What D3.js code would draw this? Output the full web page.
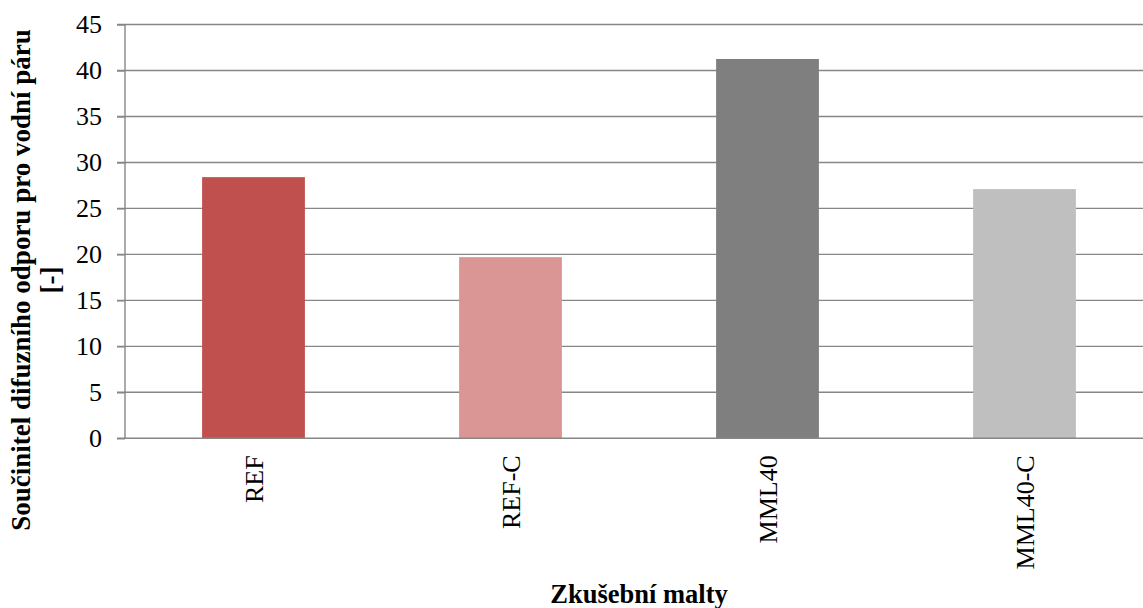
<!DOCTYPE html>
<html>
<head>
<meta charset="utf-8">
<script src="https://cdn.jsdelivr.net/npm/d3@7"></script>
<style>
  html, body { margin: 0; padding: 0; background: #fff; }
  svg { display: block; }
</style>
</head>
<body>
<svg id="chart" width="1143" height="608"></svg>
<script>
const categories = ["REF", "REF-C", "MML40", "MML40-C"];
const values = [28.4, 19.7, 41.25, 27.1];
const colors = ["#C0504D", "#D99694", "#7F7F7F", "#BFBFBF"];
const yTicks = [0, 5, 10, 15, 20, 25, 30, 35, 40, 45];
const yTitleLines = ["Součinitel difuzního odporu pro vodní páru", "[-]"];
const xTitle = "Zkušební malty";

const FONT = "Liberation Serif";
const svg = d3.select("#chart");
const plotLeft = 125, plotRight = 1153, plotTop = 24.5, plotBottom = 438.3;
const gridColor = "#868686";

const x = d3.scaleBand().domain(categories).range([plotLeft, plotRight]).paddingInner(0.6).paddingOuter(0.3);
const y = d3.scaleLinear().domain([0, 45]).range([plotBottom, plotTop]);

// gridlines
svg.append("g").selectAll("line").data(yTicks.filter(d => d > 0)).join("line")
  .attr("x1", plotLeft - 8).attr("x2", plotRight)
  .attr("y1", d => y(d)).attr("y2", d => y(d))
  .attr("stroke", gridColor).attr("stroke-width", 1.4);

// bars
svg.append("g").selectAll("rect").data(categories).join("rect")
  .attr("x", d => x(d))
  .attr("width", x.bandwidth())
  .attr("y", (d, i) => y(values[i]))
  .attr("height", (d, i) => y(0) - y(values[i]))
  .attr("fill", (d, i) => colors[i]);

// y axis
const yAxis = d3.axisLeft(y).tickValues(yTicks).tickSize(8).tickPadding(15);
const gy = svg.append("g").attr("transform", `translate(${plotLeft},0)`).call(yAxis)
  .attr("font-family", FONT).attr("font-size", 26);
gy.select(".domain").attr("stroke", gridColor).attr("stroke-width", 1.4).attr("d", `M0,${plotTop}V${plotBottom}`);
gy.selectAll(".tick line").attr("stroke", gridColor).attr("stroke-width", 1.4);
gy.selectAll(".tick text").style("font-family", FONT).style("font-size", "26px").attr("fill", "#000");

// x axis baseline
svg.append("line").attr("x1", plotLeft - 8).attr("x2", plotRight).attr("y1", y(0)).attr("y2", y(0))
  .attr("stroke", gridColor).attr("stroke-width", 1.4);

// x category labels
const xAxis = d3.axisBottom(x).tickSize(0).tickPadding(0);
const gx = svg.append("g").attr("transform", `translate(0,${plotBottom})`).call(xAxis)
  .attr("font-family", FONT).attr("font-size", 26);
gx.select(".domain").remove();
gx.selectAll(".tick text")
  .style("font-family", FONT).style("font-size", "26px").attr("fill", "#000")
  .attr("text-anchor", "end")
  .attr("dy", "0.35em")
  .attr("transform", "translate(0,17) rotate(-90)")
  .attr("x", 0).attr("y", 0);

// x title
svg.append("text").attr("x", (plotLeft + plotRight) / 2).attr("y", 603)
  .attr("text-anchor", "middle").style("font-family", FONT).style("font-size", "26.5px").style("font-weight", "bold")
  .text(xTitle);

// y title
const yt = svg.append("text").attr("transform", "translate(0,280) rotate(-90)")
  .attr("text-anchor", "middle").style("font-family", FONT).style("font-size", "27px").style("font-weight", "bold");
yTitleLines.forEach((t, i) => {
  yt.append("tspan").attr("x", 0).attr("y", 30 + i * 29).text(t);
});
</script>
</body>
</html>
